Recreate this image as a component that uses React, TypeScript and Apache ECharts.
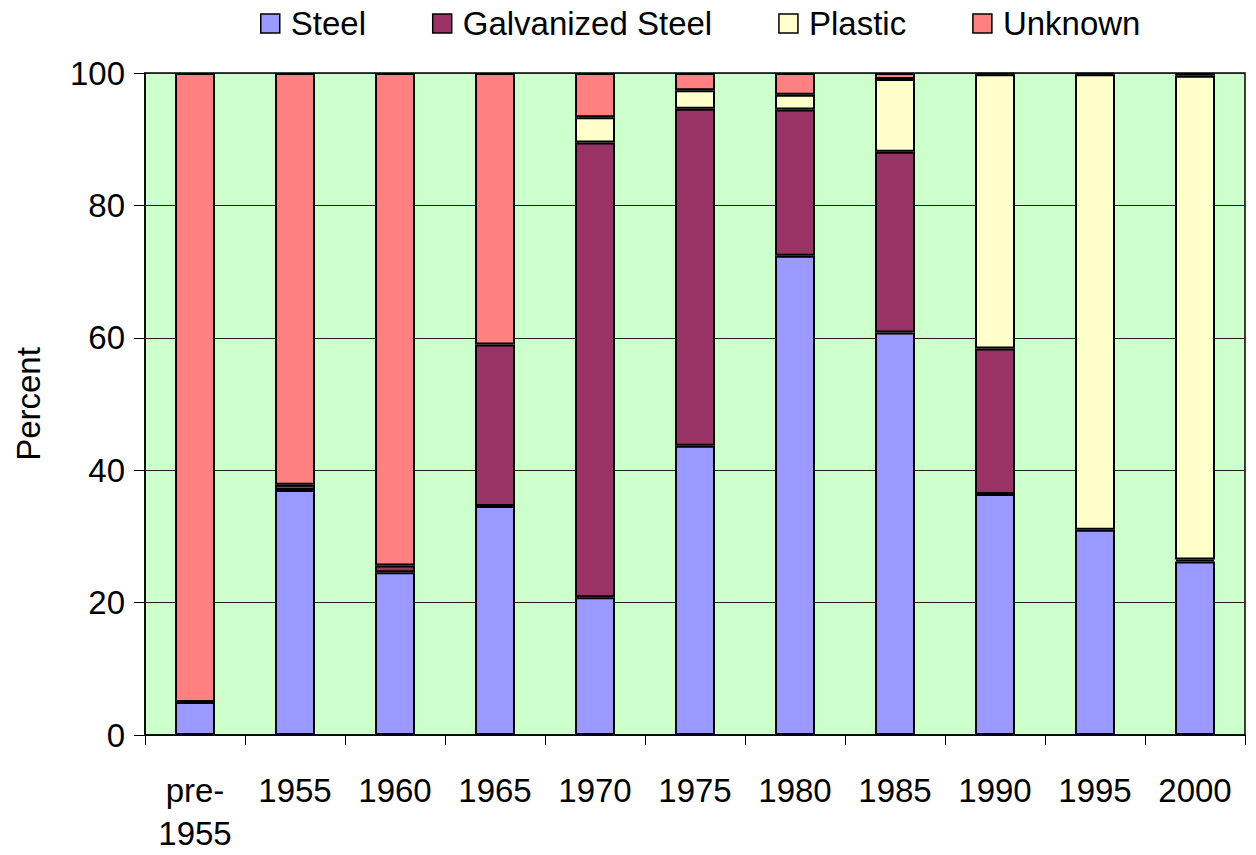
import React, { useEffect, useRef } from "react";
import * as echarts from "echarts";

const categories = ["pre-\n1955", "1955", "1960", "1965", "1970", "1975", "1980", "1985", "1990", "1995", "2000"];
const steel = [5.0, 37.0, 24.6, 34.6, 20.8, 43.7, 72.4, 60.8, 36.4, 31.0, 26.2];
const galvanized = [0, 0.8, 1.0, 24.4, 68.7, 50.9, 22.1, 27.3, 22.0, 0, 0.3];
const plastic = [0, 0, 0, 0, 3.8, 2.8, 2.2, 11.0, 41.4, 68.8, 73.1];
const unknown = [95.0, 62.2, 74.4, 41.0, 6.7, 2.6, 3.3, 0.9, 0.2, 0.2, 0.4];
const yTicks = [0, 20, 40, 60, 80, 100];

const FONT = "'Liberation Sans', Arial, Helvetica, sans-serif";

export default function App() {
  const ref = useRef<HTMLDivElement>(null);
  useEffect(() => {
    if (!ref.current) return;
    const chart = echarts.init(ref.current, null, { renderer: "svg" });
    const mk = (name: string, data: number[], color: string) => ({
      name,
      type: "bar",
      stack: "total",
      data: data.map((v) => (v === 0 ? "-" : v)),
      barWidth: "40%",
      itemStyle: { color, borderColor: "#000", borderWidth: 2 },
    });
    chart.setOption({
      animation: false,
      textStyle: { fontFamily: FONT },
      legend: {
        top: 2,
        left: 255,
        itemWidth: 19,
        itemHeight: 19,
        itemGap: 66,
        icon: "rect",
        itemStyle: { borderColor: "#000", borderWidth: 1.5 },
        textStyle: { fontSize: 33, color: "#000", fontFamily: FONT, padding: [0, 0, 0, 6] },
        data: ["Steel", "Galvanized Steel", "Plastic", "Unknown"],
      },
      grid: {
        left: 145,
        right: 11,
        top: 73,
        bottom: 118,
        show: true,
        backgroundColor: "#CCFFCC",
        borderColor: "#000",
        borderWidth: 1.5,
      },
      xAxis: {
        type: "category",
        data: categories,
        boundaryGap: true,
        axisLine: { lineStyle: { color: "#000", width: 1.5 } },
        axisTick: { show: true, length: 10, interval: 0, lineStyle: { color: "#000" } },
        axisLabel: {
          interval: 0,
          fontSize: 33,
          lineHeight: 43,
          color: "#000",
          margin: 34,
          fontFamily: FONT,
        },
      },
      yAxis: {
        type: "value",
        min: yTicks[0],
        max: yTicks[yTicks.length - 1],
        interval: 20,
        name: "Percent",
        nameLocation: "middle",
        nameGap: 100,
        nameRotate: 90,
        nameTextStyle: { fontSize: 33, color: "#000", fontFamily: FONT },
        axisLine: { show: true, lineStyle: { color: "#000", width: 1.5 } },
        axisTick: { show: true, length: 11, lineStyle: { color: "#000" } },
        axisLabel: { fontSize: 33, color: "#000", margin: 20, fontFamily: FONT },
        splitLine: { show: true, lineStyle: { color: "#222", width: 1 } },
      },
      series: [
        mk("Steel", steel, "#9999FF"),
        mk("Galvanized Steel", galvanized, "#993366"),
        mk("Plastic", plastic, "#FFFFCC"),
        mk("Unknown", unknown, "#FF8080"),
      ],
    });
    return () => chart.dispose();
  }, []);
  return <div ref={ref} style={{ width: 1256, height: 855, margin: -8 }} />;
}
